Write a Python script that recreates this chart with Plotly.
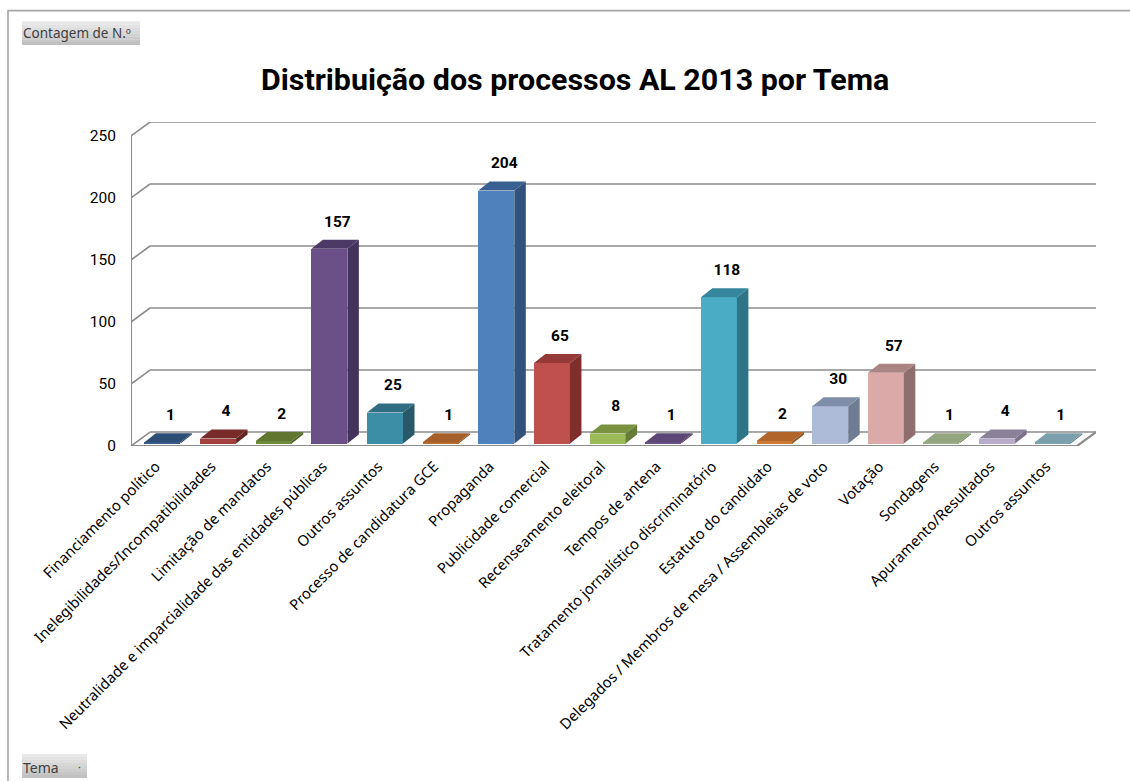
import plotly.graph_objects as go

# ---- data ----
categories = ["Financiamento político", "Inelegibilidades/Incompatibilidades", "Limitação de mandatos",
              "Neutralidade e imparcialidade das entidades públicas", "Outros assuntos",
              "Processo de candidatura GCE", "Propaganda", "Publicidade comercial",
              "Recenseamento eleitoral", "Tempos de antena", "Tratamento jornalístico discriminatório",
              "Estatuto do candidato", "Delegados / Membros de mesa / Assembleias de voto",
              "Votação", "Sondagens", "Apuramento/Resultados", "Outros assuntos"]
values = [1, 4, 2, 157, 25, 1, 204, 65, 8, 1, 118, 2, 30, 57, 1, 4, 1]
y_ticks = [0, 50, 100, 150, 200, 250]
title_text = "Distribuição dos processos AL 2013 por Tema"

front_colors = ["#385D8A", "#A33F3C", "#6E8B3D", "#6B4F87", "#3B8EA5", "#B66D31", "#4F81BD", "#C0504D", "#9BBB59",
                "#6A5088", "#4BACC6", "#CC7A34", "#AEBBD8", "#DBA9A8", "#9CAD86", "#B8ACCB", "#7BA4B0"]
side_colors = ["#274263", "#632523", "#4F6228", "#43325A", "#27596B", "#7A4A20", "#30527C", "#7F2E2C", "#667C39",
               "#43325A", "#2E7387", "#8A5220", "#6F7D94", "#8E6F6E", "#6E7C5E", "#7A7088", "#56767F"]
top_colors = ["#2C4D75", "#772C2A", "#5F7530", "#4C3966", "#2E6D82", "#A65F28", "#386090", "#963A38", "#78923F",
              "#5C4776", "#35869C", "#B2652A", "#7E8DA8", "#AB8584", "#93A57E", "#8B8199", "#7BA0AC"]

# ---- pixel geometry of the pseudo-3D box ----
W, H = 1130, 782
PX_L, PX_R = 131, 1077      # front floor edge
PX_T, PX_B = 136, 446.5     # value 250 / value 0 on the front plane
DEPTH_X, DEPTH_Y = 19, 14   # wall offset
px_per_cat = (PX_R - PX_L) / len(categories)
px_per_val = (PX_B - PX_T) / 250
dx = DEPTH_X / px_per_cat
dy = DEPTH_Y / px_per_val
BAR_W = 36 / px_per_cat
BAR_SHIFT = 3.6 / px_per_cat
BAR_LIFT = 2.5 / px_per_val
BAR_DX = 11.5 / px_per_cat
BAR_DY = 9 / px_per_val
GREY = "#8C8C8C"

x0, x1 = -0.5, len(categories) - 0.5
fig = go.Figure()
shapes = []


def polyline(xs, ys, width=1.6):
    """Wall and floor lines sit below the bars, on the axes' own scales."""
    for a in range(len(xs) - 1):
        shapes.append(dict(type="line", xref="x", yref="y", layer="below",
                           x0=xs[a], x1=xs[a + 1], y0=ys[a], y1=ys[a + 1],
                           line=dict(color=GREY, width=width)))


# back-wall gridlines and their left-wall returns
for t in y_ticks:
    polyline([x0, x0 + dx, x1 + dx], [t, t + dy, t + dy])
# left wall vertical edge
polyline([x0, x0], [0, y_ticks[-1]], 2)
# floor outline
polyline([x0, x1, x1 + dx], [0, 0, dy], 2.2)

# bars: side and top faces
for i, v in enumerate(values):
    l = i - BAR_W / 2 + BAR_SHIFT
    r = l + BAR_W
    b = BAR_LIFT
    t = v + BAR_LIFT
    fig.add_trace(go.Scatter(x=[r, r + BAR_DX, r + BAR_DX, r, r], y=[b, b + BAR_DY, t + BAR_DY, t, b],
                             mode="lines", fill="toself", fillcolor=side_colors[i], line=dict(width=0),
                             hoverinfo="skip", showlegend=False))
    fig.add_trace(go.Scatter(x=[l, r, r + BAR_DX, l + BAR_DX, l], y=[t, t, t + BAR_DY, t + BAR_DY, t],
                             mode="lines", fill="toself", fillcolor=top_colors[i], line=dict(width=0),
                             hoverinfo="skip", showlegend=False))

# front faces
fig.add_trace(go.Bar(x=[i + BAR_SHIFT for i in range(len(values))], y=values, base=BAR_LIFT, width=BAR_W,
                     marker=dict(color=front_colors, line=dict(width=0)), showlegend=False,
                     hovertext=categories, hoverinfo="text+y"))

# data labels
fig.add_trace(go.Scatter(x=[i + BAR_SHIFT + 8 / px_per_cat for i in range(len(values))],
                         y=[v + BAR_LIFT + 26 / px_per_val for v in values],
                         text=[str(v) for v in values], mode="text", textposition="middle center",
                         textfont=dict(family="Roboto", size=15.5, color="#000000", weight="bold"),
                         hoverinfo="skip", showlegend=False))

# field buttons: grey gradient bands and labels
fx = lambda p: (p - PX_L) / (PX_R + DEPTH_X - PX_L)
fy = lambda p: (PX_B - p) / (PX_B - PX_T + DEPTH_Y)
for (bx0, by0, bx1, by1) in [(22, 21, 140, 45), (22, 755, 87, 779)]:
    n = 8
    for k in range(n):
        g = 232 - int(k * 40 / (n - 1))
        shapes.append(dict(type="rect", xref="paper", yref="paper", layer="below",
                           x0=fx(bx0), x1=fx(bx1),
                           y0=fy(by0 + (by1 - by0) * (k + 1) / n), y1=fy(by0 + (by1 - by0) * k / n),
                           fillcolor=f"rgb({g},{g},{g})", line=dict(width=0)))
# outer frame
for (ax, ay, bx, by) in [(7.5, 10.5, W, 10.5), (8, 10.5, 8, H)]:
    shapes.append(dict(type="line", xref="paper", yref="paper",
                       x0=fx(ax), x1=fx(bx), y0=fy(ay), y1=fy(by),
                       line=dict(color="#A6A6A6", width=1.6)))


def px_ann(text, px, py, size, family, color, xanchor="left", bold=False):
    return dict(text=f"<b>{text}</b>" if bold else text, xref="paper", yref="paper", showarrow=False,
                x=fx(px), y=fy(py), xanchor=xanchor, yanchor="middle",
                font=dict(size=size, family=family, color=color))


annotations = [
    px_ann("Contagem de N.º", 21, 33, 13.5, "Noto Sans", "#404040"),
    px_ann("Tema", 21, 768, 14, "Noto Sans", "#404040"),
    px_ann("·", 76, 767, 11, "Noto Sans", "#404040"),
    px_ann(title_text, 575, 79, 30.4, "Roboto", "#000000", xanchor="center", bold=True),
]

fig.update_layout(
    width=W, height=H, paper_bgcolor="white", plot_bgcolor="white",
    margin=dict(l=PX_L, r=W - PX_R - DEPTH_X, t=PX_T - DEPTH_Y, b=H - PX_B, pad=0, autoexpand=False),
    bargap=0, showlegend=False, shapes=shapes, annotations=annotations,
    xaxis=dict(range=[x0, x1 + dx], tickmode="array", tickvals=list(range(len(categories))), ticktext=categories,
               tickangle=-45, showgrid=False, zeroline=False, showline=False, ticks="", ticklen=0,
               ticklabelstandoff=8, ticklabelshift=-3,
               tickfont=dict(family="Noto Sans", size=14.8, color="#000000")),
    yaxis=dict(range=[0, y_ticks[-1] + dy], tickmode="array", tickvals=y_ticks, ticktext=[str(t) for t in y_ticks],
               showgrid=False, zeroline=False, showline=False, ticks="", ticklen=0,
               ticklabelstandoff=14,
               tickfont=dict(family="Roboto", size=15.5, color="#000000")),
)

fig.write_html("out.html", post_script="document.body.style.margin='0';", config={"displayModeBar": False})
